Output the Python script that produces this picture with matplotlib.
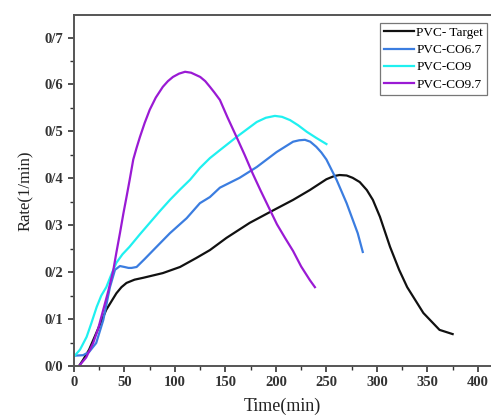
import matplotlib
matplotlib.use("Agg")
from matplotlib import pyplot as plt
from matplotlib.ticker import MultipleLocator, FuncFormatter

# data
t_target = [5, 9, 15, 22, 32, 42, 47, 52, 60, 68.6, 88, 105, 121, 134.6, 151, 174, 194, 217,
            233.6, 250, 258, 263, 270, 276, 283, 290, 296, 303, 313, 322, 330, 346, 362, 375]
r_target = [0.0, 0.013, 0.035, 0.07, 0.12, 0.155, 0.168, 0.177, 0.184, 0.188, 0.198, 0.211,
            0.23, 0.247, 0.273, 0.305, 0.328, 0.354, 0.375, 0.398, 0.405, 0.407, 0.406, 0.401,
            0.392, 0.375, 0.354, 0.318, 0.254, 0.205, 0.168, 0.113, 0.077, 0.068]

t_co67 = [0, 9, 15, 22, 29, 35.6, 40.6, 45.5, 50, 54, 57, 62, 70, 78.6, 95, 111.6, 124.7, 134.6,
          144.5, 164, 181, 200.7, 217, 223, 228.7, 234, 240, 245, 250, 260, 270, 281, 286]
r_co67 = [0.022, 0.023, 0.03, 0.049, 0.098, 0.168, 0.205, 0.213, 0.211, 0.209, 0.209, 0.211,
          0.228, 0.247, 0.283, 0.315, 0.347, 0.36, 0.38, 0.401, 0.424, 0.456, 0.478, 0.481,
          0.482, 0.478, 0.467, 0.455, 0.44, 0.397, 0.347, 0.283, 0.243]

t_co9 = [0, 6, 12.5, 17, 22.5, 27, 32, 37, 42, 48, 55, 65, 75, 85, 95, 105, 115, 124.7, 134.6,
         144.5, 161, 181, 190, 199, 206, 214, 222, 230.6, 240, 250]
r_co9 = [0.02, 0.035, 0.062, 0.09, 0.126, 0.15, 0.168, 0.195, 0.22, 0.238, 0.254, 0.28, 0.305,
         0.33, 0.354, 0.376, 0.397, 0.422, 0.443, 0.46, 0.488, 0.52, 0.529, 0.533, 0.531, 0.524,
         0.513, 0.499, 0.486, 0.473]

t_co97 = [5, 12, 19, 24, 29, 34, 39, 42, 45.5, 49, 52, 55, 58.7, 62, 65.3, 70, 75, 81, 88, 93,
          98, 104, 110, 116, 121, 125, 130, 134.6, 139, 144.5, 152, 161, 169, 177, 185, 194,
          201, 209, 217, 225, 233.6, 238.6]
r_co97 = [0.0, 0.018, 0.049, 0.08, 0.12, 0.16, 0.205, 0.242, 0.283, 0.326, 0.36, 0.395, 0.44,
          0.465, 0.488, 0.518, 0.546, 0.572, 0.595, 0.607, 0.616, 0.623, 0.627, 0.625, 0.62,
          0.616, 0.607, 0.595, 0.583, 0.567, 0.53, 0.488, 0.45, 0.41, 0.373, 0.333, 0.302,
          0.273, 0.245, 0.212, 0.183, 0.168]

x_ticks = [0, 50, 100, 150, 200, 250, 300, 350, 400]
y_ticks = [0.0, 0.1, 0.2, 0.3, 0.4, 0.5, 0.6, 0.7]

plt.rcParams['font.family'] = ['Liberation Serif', 'DejaVu Serif']

fig = plt.figure(figsize=(4.91, 4.19), dpi=100)
ax = fig.add_axes([0.1507, 0.1265, 0.8493, 0.8377])

ax.plot(t_target, r_target, color='#111111', lw=1.6, label='PVC- Target')
ax.plot(t_co67, r_co67, color='#3b7de0', lw=1.6, label='PVC-CO6.7')
ax.plot(t_co9, r_co9, color='#1ff0f0', lw=1.6, label='PVC-CO9')
ax.plot(t_co97, r_co97, color='#9a1ad4', lw=1.6, label='PVC-CO9.7')

ax.set_xlim(0, 413)
ax.set_ylim(0, 0.748)
ax.set_xticks(x_ticks)
ax.set_yticks(y_ticks)
ax.xaxis.set_minor_locator(MultipleLocator(25))
ax.yaxis.set_minor_locator(MultipleLocator(0.05))
ax.yaxis.set_major_formatter(FuncFormatter(lambda v, p: ('%.1f' % v).replace('.', '/')))
ax.tick_params(which='major', direction='out', length=4, width=1.2, labelsize=10.5, colors='#333333')
ax.tick_params(which='minor', direction='out', length=3, width=1.0, colors='#333333')
for lab in ax.get_xticklabels() + ax.get_yticklabels():
    lab.set_fontweight('bold')

ax.spines['right'].set_visible(False)
for s in ['left', 'bottom', 'top']:
    ax.spines[s].set_linewidth(1.4)
    ax.spines[s].set_color('#555555')

ax.set_xlabel('Time(min)', fontsize=13, color='#222222', labelpad=6)
ax.set_ylabel('Rate(1/min)', fontsize=12, color='#222222', labelpad=8)

leg = ax.legend(loc='upper right', bbox_to_anchor=(0.99, 0.978), fontsize=9.5, frameon=True,
                fancybox=False, handlelength=2.3, handletextpad=0.15, borderpad=0.3,
                labelspacing=0.38, borderaxespad=0.0)
leg.get_frame().set_edgecolor('#555555')
leg.get_frame().set_linewidth(0.9)

fig.savefig('out.png', dpi=100)
